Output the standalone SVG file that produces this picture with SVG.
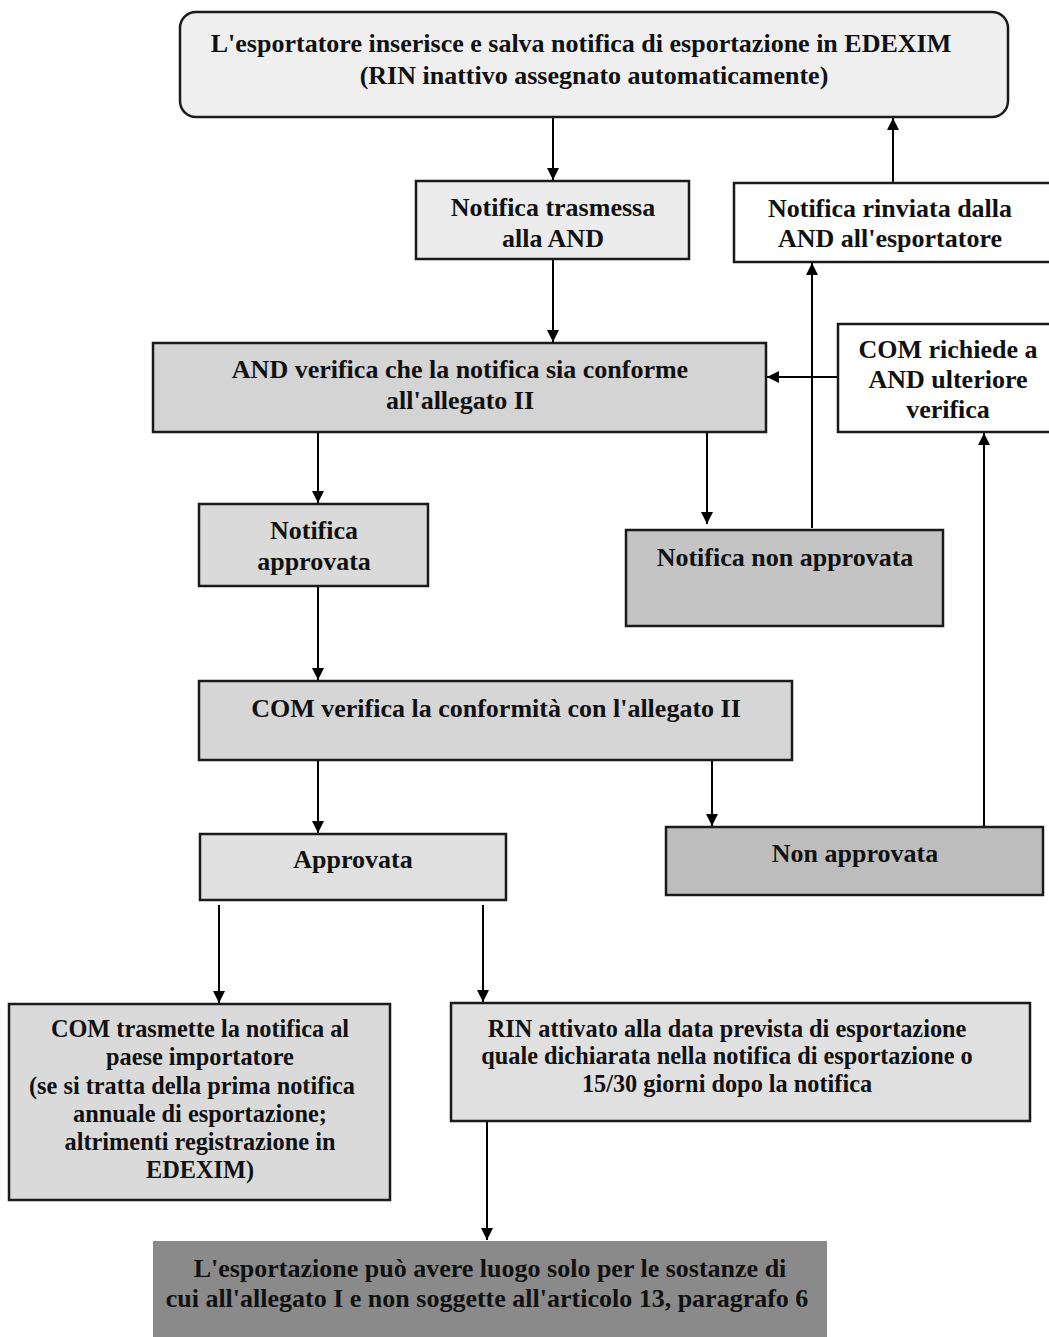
<svg xmlns="http://www.w3.org/2000/svg" width="1049" height="1337" viewBox="0 0 1049 1337">
<defs>
<marker id="ah" viewBox="0 0 10 10" refX="10" refY="5" markerWidth="13" markerHeight="12" markerUnits="userSpaceOnUse" orient="auto">
<path d="M0,0 L10,5 L0,10 z" fill="#000"/>
</marker>
</defs>
<style>
.b{stroke:#1a1a1a;stroke-width:2.5}
.t{font-family:"Liberation Serif","Times New Roman",serif;font-weight:bold;font-size:26px;fill:#111;text-anchor:middle}
.s{font-size:24.3px}
.c{stroke:#000;stroke-width:2;fill:none;marker-end:url(#ah)}
</style>
<rect width="1049" height="1337" fill="#fff"/>
<g id="n1"><rect class="b" x="180" y="12" width="828" height="105" rx="16" fill="#efefef"/>
<text class="t" x="581" y="52">L'esportatore inserisce e salva notifica di esportazione in EDEXIM</text>
<text class="t" x="594" y="84">(RIN inattivo assegnato automaticamente)</text></g>
<g id="n2"><rect class="b" x="416" y="181" width="273" height="78" fill="#ececec"/>
<text class="t" x="553" y="216">Notifica trasmessa</text>
<text class="t" x="553" y="247">alla AND</text></g>
<g id="n3"><rect class="b" x="734" y="183" width="320" height="79" fill="#fff"/>
<text class="t" x="890" y="217">Notifica rinviata dalla</text>
<text class="t" x="890" y="247">AND all'esportatore</text></g>
<g id="n4"><rect class="b" x="153" y="343" width="613" height="89" fill="#d4d4d4"/>
<text class="t" x="460" y="378">AND verifica che la notifica sia conforme</text>
<text class="t" x="460" y="409">all'allegato II</text></g>
<g id="n5"><rect class="b" x="838" y="324" width="216" height="108" fill="#fff"/>
<text class="t" x="948" y="358">COM richiede a</text>
<text class="t" x="948" y="388">AND ulteriore</text>
<text class="t" x="948" y="418">verifica</text></g>
<g id="n6"><rect class="b" x="199" y="504" width="229" height="82" fill="#dadada"/>
<text class="t" x="314" y="539">Notifica</text>
<text class="t" x="314" y="570">approvata</text></g>
<g id="n7"><rect class="b" x="626" y="530" width="317" height="96" fill="#c4c4c4"/>
<text class="t" x="785" y="566">Notifica non approvata</text></g>
<g id="n8"><rect class="b" x="199" y="681" width="593" height="79" fill="#d6d6d6"/>
<text class="t" x="496" y="717">COM verifica la conformità con l'allegato II</text></g>
<g id="n9"><rect class="b" x="200" y="834" width="306" height="66" fill="#e0e0e0"/>
<text class="t" x="353" y="868">Approvata</text></g>
<g id="n10"><rect class="b" x="666" y="827" width="377" height="68" fill="#bdbdbd"/>
<text class="t" x="855" y="862">Non approvata</text></g>
<g id="n11"><rect class="b" x="9" y="1004" width="381" height="196" fill="#dadada"/>
<text class="t s" x="200" y="1037">COM trasmette la notifica al</text>
<text class="t s" x="200" y="1065">paese importatore</text>
<text class="t s" x="192" y="1094">(se si tratta della prima notifica</text>
<text class="t s" x="200" y="1122">annuale di esportazione;</text>
<text class="t s" x="200" y="1150">altrimenti registrazione in</text>
<text class="t s" x="200" y="1178">EDEXIM)</text></g>
<g id="n12"><rect class="b" x="451" y="1003" width="579" height="118" fill="#e0e0e0"/>
<text class="t s" x="727" y="1037">RIN attivato alla data prevista di esportazione</text>
<text class="t s" x="727" y="1064">quale dichiarata nella notifica di esportazione o</text>
<text class="t s" x="727" y="1092">15/30 giorni dopo la notifica</text></g>
<g id="n13"><rect x="153" y="1241" width="674" height="96" fill="#8a8a8a"/>
<text class="t" x="490" y="1277">L'esportazione può avere luogo solo per le sostanze di</text>
<text class="t" x="487" y="1307">cui all'allegato I e non soggette all'articolo 13, paragrafo 6</text></g>
<g id="connectors">
<line class="c" x1="553" y1="118" x2="553" y2="180"/>
<line class="c" x1="553" y1="260" x2="553" y2="342"/>
<line class="c" x1="893" y1="182" x2="893" y2="118"/>
<line class="c" x1="838" y1="377" x2="767" y2="377"/>
<line class="c" x1="812" y1="528" x2="812" y2="263"/>
<line class="c" x1="707" y1="433" x2="707" y2="524"/>
<line class="c" x1="318" y1="433" x2="318" y2="503"/>
<line class="c" x1="318" y1="587" x2="318" y2="680"/>
<line class="c" x1="318" y1="761" x2="318" y2="833"/>
<line class="c" x1="712" y1="761" x2="712" y2="826"/>
<line class="c" x1="984" y1="826" x2="984" y2="433"/>
<line class="c" x1="219" y1="905" x2="219" y2="1003"/>
<line class="c" x1="483" y1="905" x2="483" y2="1002"/>
<line class="c" x1="487" y1="1122" x2="487" y2="1240"/>
</g>
</svg>
